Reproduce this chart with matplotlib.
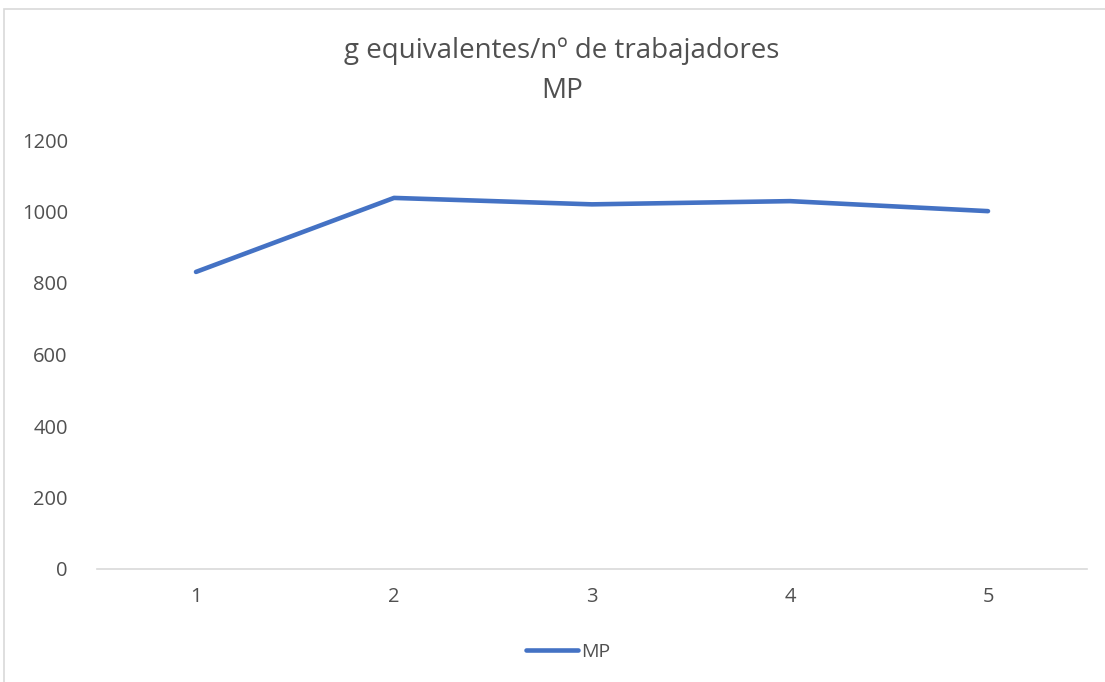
import matplotlib
matplotlib.use("Agg")
import matplotlib.pyplot as plt
from matplotlib.patches import Rectangle

# Chart data
categories = [1, 2, 3, 4, 5]
mp_values = [831, 1038, 1020, 1029, 1001]
y_ticks = [0, 200, 400, 600, 800, 1000, 1200]

line_color = "#4472C4"
text_color = "#505050"
axis_color = "#D9D9D9"

plt.rcParams['font.family'] = ['Open Sans', 'DejaVu Sans']

W, H = 1105, 682
fig = plt.figure(figsize=(W / 100, H / 100), dpi=100)

# Chart area border (runs off the right and bottom edges)
fig.patches.append(Rectangle((4 / W, -0.1), 1.2, 1 - 9 / H + 0.1,
                             transform=fig.transFigure, fill=False,
                             edgecolor=axis_color, linewidth=1.2))

ax = fig.add_axes([97 / W, 1 - 569 / H, (1087 - 97) / W, (569 - 140) / H])
ax.plot(categories, mp_values, color=line_color, linewidth=3.3,
        solid_capstyle='round', solid_joinstyle='round', label="MP")

ax.set_xlim(0.5, 5.5)
ax.set_ylim(0, 1200)
ax.set_xticks(categories)
ax.set_yticks(y_ticks)
ax.tick_params(length=0, labelsize=14.5, colors=text_color)
ax.tick_params(axis='y', pad=21)
ax.tick_params(axis='x', pad=13)

for side in ['top', 'right', 'left']:
    ax.spines[side].set_visible(False)
ax.spines['bottom'].set_color(axis_color)
ax.spines['bottom'].set_linewidth(1.2)

fig.text(562 / W, 1 - 51 / H, "g equivalentes/nº de trabajadores",
         ha='center', va='center', fontsize=20, color=text_color)
fig.text(562 / W, 1 - 91 / H, "MP",
         ha='center', va='center', fontsize=20, color=text_color)

fig.legend(loc='center', bbox_to_anchor=(568 / W, 1 - 652 / H), frameon=False,
           fontsize=14, labelcolor=text_color, handlelength=2.7,
           handletextpad=0.15)

fig.savefig("out.png", dpi=100, facecolor="white")
